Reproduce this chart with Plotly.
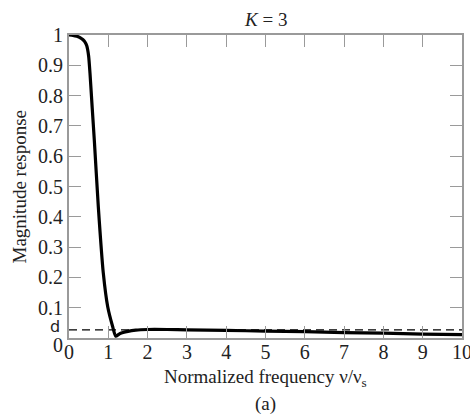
import plotly.graph_objects as go

# Normalized frequency samples and magnitude response
freq = [0, 0.1, 0.2, 0.3, 0.35, 0.4, 0.45, 0.5, 0.534, 0.59, 0.644, 0.746, 0.873,
        0.985, 1.112, 1.188, 1.3, 1.5, 1.7, 2.0, 2.5, 3, 4, 5, 6, 7, 8, 9, 10]
magnitude = [1.0, 0.999, 0.996, 0.99, 0.985, 0.978, 0.965, 0.93, 0.874, 0.76, 0.653,
             0.433, 0.214, 0.103, 0.037, 0.006, 0.015, 0.022, 0.026, 0.028, 0.028,
             0.027, 0.025, 0.023, 0.021, 0.018, 0.016, 0.013, 0.011]

D_LEVEL = 0.027
X_RANGE = [0, 10]
x_ticks = [0, 1, 2, 3, 4, 5, 6, 7, 8, 9, 10]
y_tick_vals = [0.1, 0.2, 0.3, 0.4, 0.5, 0.6, 0.7, 0.8, 0.9, 1]
y_tick_text = ["0.1", "0.2", "0.3", "0.4", "0.5", "0.6", "0.7", "0.8", "0.9", "1"]

SERIF = "Liberation Serif, Times New Roman, serif"
SANS = "DejaVu Sans, Liberation Sans, sans-serif"
AX = "#9a9a9a"
TXT = "#222"

fig = go.Figure()
fig.add_trace(go.Scatter(x=X_RANGE, y=[D_LEVEL, D_LEVEL], mode="lines",
                         line=dict(color="black", width=1.2, dash="8px,5px"),
                         hoverinfo="skip"))
fig.add_trace(go.Scatter(x=freq, y=magnitude, mode="lines",
                         line=dict(color="black", width=3.2, shape="spline", smoothing=0.5)))

fig.update_layout(
    width=470, height=414,
    margin=dict(l=69, r=8, t=35, b=76),
    paper_bgcolor="white", plot_bgcolor="white",
    showlegend=False,
    font=dict(family=SERIF, size=19, color=TXT),
)
fig.update_xaxes(range=X_RANGE, tickvals=x_ticks, ticks="inside", ticklen=12,
                 tickcolor=AX, tickwidth=1.2, showline=True, linecolor=AX, linewidth=2,
                 mirror="ticks", showgrid=False, zeroline=False, automargin=False,
                 ticklabeloverflow="allow", ticklabelstandoff=-5,
                 tickfont=dict(family=SERIF, size=20, color=TXT))
fig.update_yaxes(range=[0, 1], tickvals=y_tick_vals, ticktext=y_tick_text,
                 ticks="inside", ticklen=12, tickcolor=AX, tickwidth=1.2,
                 showline=True, linecolor=AX, linewidth=2, mirror="ticks",
                 showgrid=False, zeroline=False, automargin=False,
                 ticklabeloverflow="allow",
                 tickfont=dict(family=SERIF, size=20, color=TXT))

# y-axis "0" and "d" labels at their data positions
fig.add_annotation(text="0", xref="paper", yref="y", x=0, y=0, xanchor="right",
                   yanchor="middle", xshift=-5, yshift=-7, showarrow=False, borderpad=0,
                   font=dict(family=SERIF, size=20, color=TXT))
fig.add_annotation(text="d", xref="paper", yref="y", x=0, y=D_LEVEL, xanchor="right",
                   yanchor="middle", xshift=-8, yshift=3, showarrow=False, borderpad=0,
                   font=dict(family=SANS, size=16, color=TXT))

fig.add_annotation(text="<i>K</i> = 3", xref="paper", yref="paper", x=0.5, y=1,
                   yshift=16, showarrow=False, yanchor="middle",
                   font=dict(family=SERIF, size=19, color=TXT))
fig.add_annotation(text="Normalized frequency ν/ν<sub>s</sub>", xref="paper", yref="paper",
                   x=0.5, y=0, yshift=-40, showarrow=False, yanchor="middle",
                   font=dict(family=SERIF, size=19, color=TXT))
fig.add_annotation(text="(a)", xref="paper", yref="paper", x=0.5, y=0, yshift=-66,
                   showarrow=False, yanchor="middle", borderpad=0,
                   font=dict(family=SERIF, size=19, color=TXT))
fig.add_annotation(text="Magnitude response", xref="paper", yref="paper", x=0, y=0.5,
                   xshift=-50, textangle=-90, showarrow=False, xanchor="center",
                   font=dict(family=SERIF, size=19, color=TXT))

fig.write_html("out.html", config={"displayModeBar": False},
               post_script="document.body.style.margin='0';document.body.style.padding='0';")
